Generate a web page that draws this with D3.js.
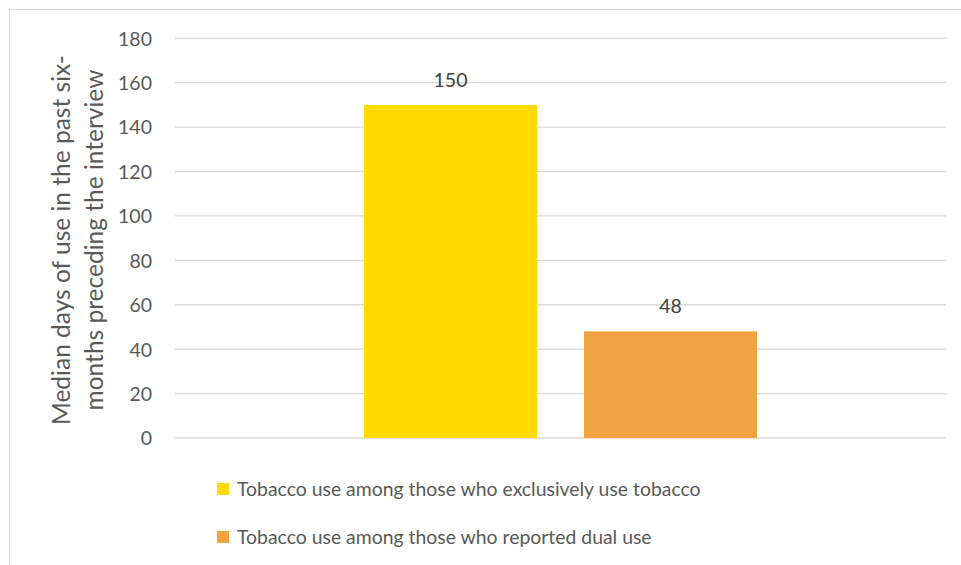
<!DOCTYPE html>
<html>
<head>
<meta charset="utf-8">
<script src="https://cdn.jsdelivr.net/npm/d3@7"></script>
<style>
  html, body { margin: 0; padding: 0; background: #fff; }
  svg { display: block; }
  text { font-family: "Lato", "Open Sans", sans-serif; }
</style>
</head>
<body>
<svg id="chart" width="961" height="565"></svg>
<script>
// Median days of tobacco use, by user group
const seriesNames = [
  "Tobacco use among those who exclusively use tobacco",
  "Tobacco use among those who reported dual use"
];
const seriesValues = [150, 48];
const seriesColors = ["#FFDA00", "#F0A340"];
const yTicks = [0, 20, 40, 60, 80, 100, 120, 140, 160, 180];
const yTitleLines = ["Median days of use in the past six-", "months preceding the interview"];

const svg = d3.select("#chart");
const W = 961, H = 565;

// outer chart frame
svg.append("rect")
  .attr("x", 9.5).attr("y", 9.5)
  .attr("width", W + 10).attr("height", H + 10)
  .attr("fill", "none").attr("stroke", "#d9d9d9").attr("stroke-width", 1);

const plot = { left: 175, right: 946, top: 38.3, bottom: 438 };

const y = d3.scaleLinear().domain([0, 180]).range([plot.bottom, plot.top]);
const x = d3.scaleBand()
  .domain(seriesNames)
  .range([plot.left, plot.right])
  .paddingInner(0.2136)
  .paddingOuter(0.859);

// gridlines
svg.append("g")
  .selectAll("line")
  .data(yTicks)
  .join("line")
  .attr("x1", plot.left).attr("x2", plot.right)
  .attr("y1", d => y(d)).attr("y2", d => y(d))
  .attr("stroke", "#d9d9d9").attr("stroke-width", 1.3);

// y axis tick labels
const yAxis = d3.axisLeft(y).tickValues(yTicks).tickSize(0).tickPadding(0);
const gy = svg.append("g")
  .attr("transform", `translate(152,0)`)
  .call(yAxis);
gy.select(".domain").remove();
gy.selectAll("text")
  .attr("fill", "#595959")
  .style("font-size", "19.5px")
  .attr("dy", "0.35em");

// y axis title
const title = svg.append("text")
  .attr("transform", `translate(0,240) rotate(-90)`)
  .attr("text-anchor", "middle")
  .attr("fill", "#595959")
  .style("font-size", "24.5px");
title.selectAll("tspan")
  .data(yTitleLines)
  .join("tspan")
  .attr("x", 0)
  .attr("y", (d, i) => 70 + i * 33)
  .text(d => d);

// bars
svg.append("g")
  .selectAll("rect")
  .data(seriesValues)
  .join("rect")
  .attr("x", (d, i) => x(seriesNames[i]))
  .attr("width", x.bandwidth())
  .attr("y", d => y(d))
  .attr("height", d => y(0) - y(d))
  .attr("fill", (d, i) => seriesColors[i]);

// value labels
svg.append("g")
  .selectAll("text")
  .data(seriesValues)
  .join("text")
  .attr("x", (d, i) => x(seriesNames[i]) + x.bandwidth() / 2)
  .attr("y", d => y(d) - 18)
  .attr("text-anchor", "middle")
  .attr("fill", "#404040")
  .style("font-size", "19.5px")
  .text(d => d);

// legend
const legend = svg.append("g")
  .selectAll("g")
  .data(seriesNames)
  .join("g")
  .attr("transform", (d, i) => `translate(217,${483 + i * 48})`);
legend.append("rect")
  .attr("width", 12).attr("height", 12)
  .attr("fill", (d, i) => seriesColors[i]);
legend.append("text")
  .attr("x", 20).attr("y", 6)
  .attr("dy", "0.35em")
  .attr("fill", "#595959")
  .style("font-size", "19.4px")
  .text(d => d);
</script>
</body>
</html>
